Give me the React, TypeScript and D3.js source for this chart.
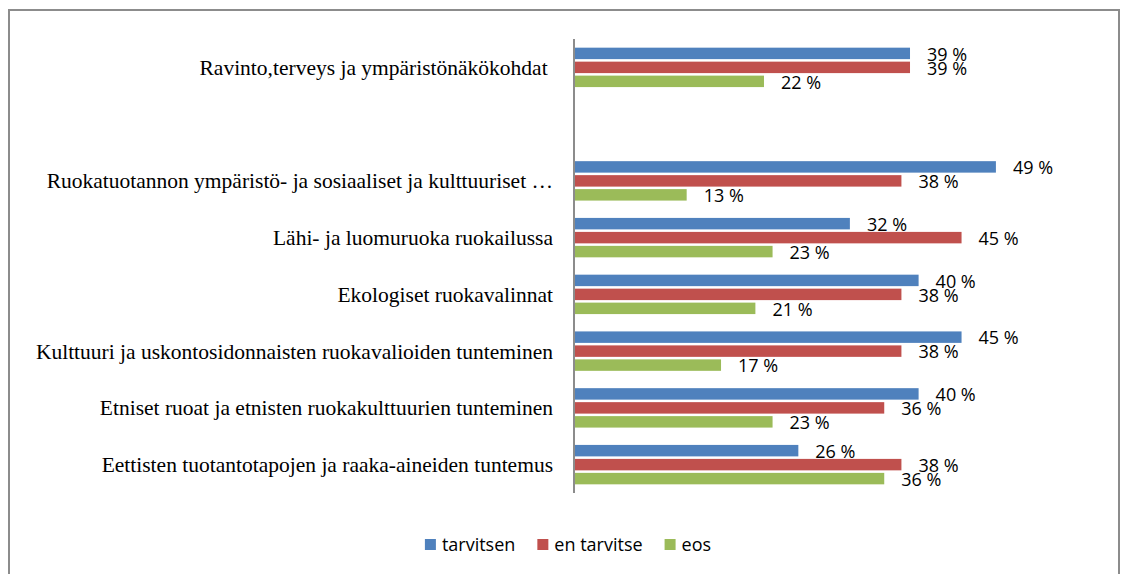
import React, { useEffect, useRef } from 'react';
import * as d3 from 'd3';

const categories = [
  "Ravinto,terveys ja ympäristönäkökohdat ",
  "",
  "Ruokatuotannon ympäristö- ja sosiaaliset ja kulttuuriset …",
  "Lähi- ja luomuruoka ruokailussa",
  "Ekologiset ruokavalinnat",
  "Kulttuuri ja uskontosidonnaisten ruokavalioiden tunteminen",
  "Etniset ruoat ja etnisten ruokakulttuurien tunteminen",
  "Eettisten tuotantotapojen ja raaka-aineiden tuntemus",
];
const seriesNames = ["tarvitsen", "en tarvitse", "eos"];
const tarvitsen = [39, null, 49, 32, 40, 45, 40, 26];
const enTarvitse = [39, null, 38, 45, 38, 38, 36, 38];
const eos = [22, null, 13, 23, 21, 17, 23, 36];
const colors = ["#4F81BD", "#C0504D", "#9BBB59"];

const W = 1123;
const H = 574;

export default function App() {
  const ref = useRef<SVGSVGElement | null>(null);

  useEffect(() => {
    const svg = d3.select(ref.current);
    svg.selectAll('*').remove();

    const series = [tarvitsen, enTarvitse, eos];
    const idx = d3.range(categories.length);
    const y = d3.scaleBand<number>().domain(idx).range([39, 493]).padding(0);
    const inner = d3.scaleBand<string>().domain(seriesNames).range([0, y.bandwidth()])
      .paddingInner(0.18).paddingOuter(0.62);
    const x = d3.scaleLinear().domain([0, 100]).range([575, 575 + 859]);

    // frame
    svg.append('rect').attr('x', 9).attr('y', 10).attr('width', 1110).attr('height', 620)
      .attr('fill', 'none').attr('stroke', '#8c8c8c').attr('stroke-width', 2);

    const sansFont = '"Open Sans", "Noto Sans", sans-serif';

    // bars
    series.forEach((vals, si) => {
      const g = svg.append('g');
      const data = idx.filter(i => vals[i] != null).map(i => ({ i, v: vals[i] as number }));
      g.selectAll('rect').data(data).join('rect')
        .attr('x', x(0))
        .attr('y', d => (y(d.i) as number) + (inner(seriesNames[si]) as number))
        .attr('width', d => x(d.v) - x(0))
        .attr('height', inner.bandwidth())
        .attr('fill', colors[si]);
      g.selectAll('text').data(data).join('text')
        .attr('x', d => x(d.v) + 17)
        .attr('y', d => (y(d.i) as number) + (inner(seriesNames[si]) as number) + inner.bandwidth() / 2)
        .attr('dy', '0.4em')
        .attr('font-family', sansFont)
        .attr('font-size', 18)
        .attr('fill', '#000')
        .text(d => `${d.v} %`);
    });

    // axis line
    svg.append('line').attr('x1', 574).attr('x2', 574).attr('y1', 39).attr('y2', 493)
      .attr('stroke', '#8c8c8c').attr('stroke-width', 2);

    // category labels
    svg.append('g').selectAll('text').data(idx).join('text')
      .attr('x', 553)
      .attr('y', i => (y(i) as number) + y.bandwidth() / 2)
      .attr('dy', '0.35em')
      .attr('text-anchor', 'end')
      .attr('font-family', '"Liberation Serif", "Times New Roman", serif')
      .attr('font-size', 21.5)
      .style('white-space', 'pre')
      .attr('fill', '#000')
      .text(i => categories[i]);

    // legend
    const lg = svg.append('g');
    const items = lg.selectAll('g').data(seriesNames).join('g');
    items.append('rect').attr('width', 11).attr('height', 11).attr('y', -6)
      .attr('fill', (d, i) => colors[i]);
    items.append('text').attr('x', 17).attr('dy', '0.35em')
      .attr('font-family', sansFont).attr('font-size', 18).attr('fill', '#000')
      .text(d => d);
    const widths: number[] = [];
    items.each(function () {
      const t = d3.select(this).select('text').node() as SVGTextElement;
      widths.push(17 + t.getComputedTextLength());
    });
    const gap = 22;
    const total = d3.sum(widths) + gap * (widths.length - 1);
    let cx = 568 - total / 2;
    items.each(function (d, i) {
      d3.select(this).attr('transform', `translate(${cx},545)`);
      cx += widths[i] + gap;
    });
  }, []);

  return (
    <svg ref={ref} width={W} height={H}
      style={{ position: 'absolute', left: 0, top: 0, background: '#fff' }} />
  );
}
